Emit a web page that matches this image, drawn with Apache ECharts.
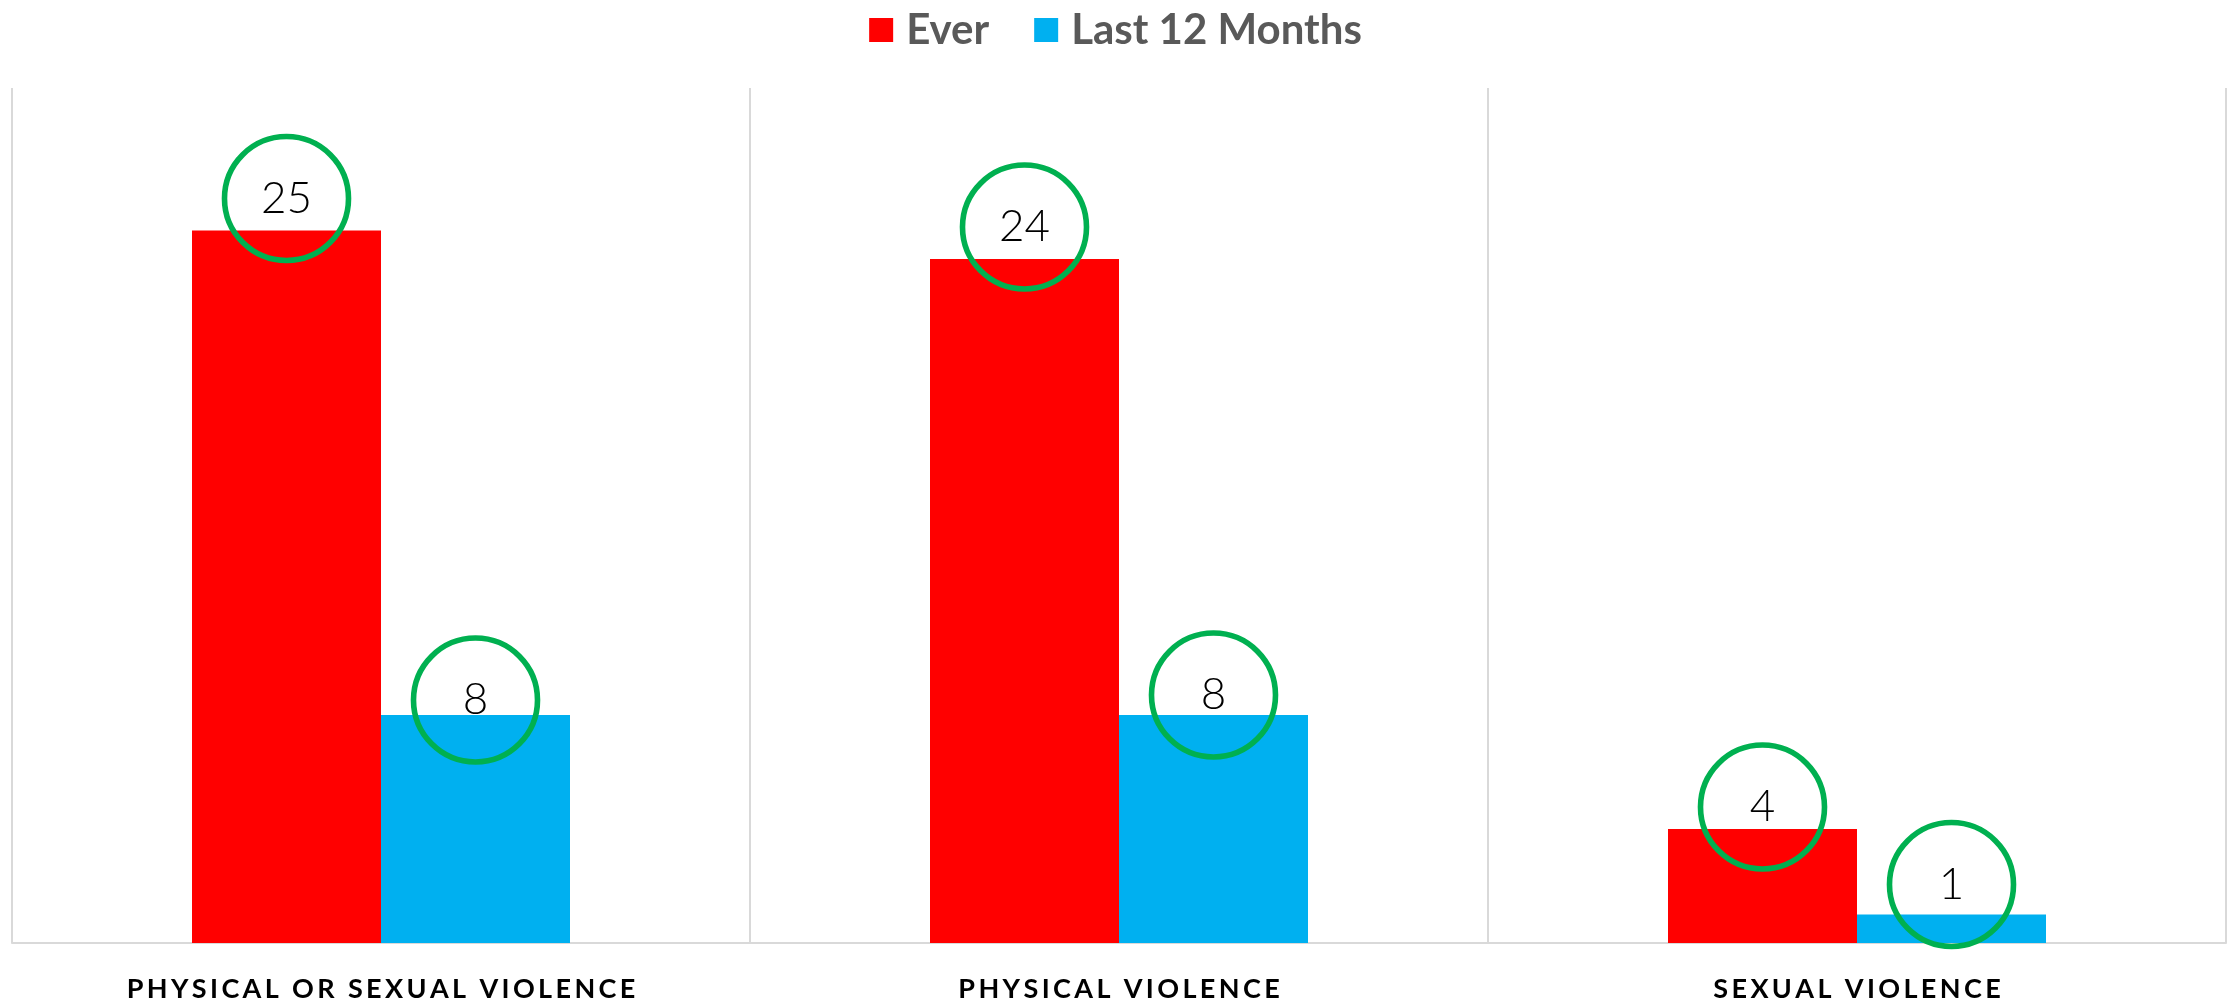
<!DOCTYPE html>
<html>
<head>
<meta charset="utf-8">
<title>Violence chart</title>
<script src="https://cdn.jsdelivr.net/npm/echarts@6/dist/echarts.min.js"></script>
<style>
  html, body { margin: 0; padding: 0; background: #fff; }
  #chart { width: 2231px; height: 1007px; }
</style>
</head>
<body>
<div id="chart"></div>
<script>
// chart values
var categories = ["PHYSICAL OR SEXUAL VIOLENCE", "PHYSICAL VIOLENCE", "SEXUAL VIOLENCE"];
var everValues = [25, 24, 4];
var last12Values = [8, 8, 1];
var seriesNames = ["Ever", "Last 12 Months"];

// how far each circle centre sits above its bar top (px)
var everLift = [32, 32, 22];
var last12Lift = [15, 20, 30];

var CIRCLE = 124;

// spread letters out a bit, the original uses wide tracking
function spaced(s) {
  return s.split("").join("\u2009");
}

function circleData(values, lifts) {
  return values.map(function (v, i) {
    return {
      value: v,
      label: { offset: [0, -lifts[i]] }
    };
  });
}

var labelStyle = {
  show: true,
  position: "top",
  distance: 0,
  formatter: "{c}",
  color: "#000",
  fontFamily: "Lato",
  fontWeight: 300,
  fontSize: 44,
  width: CIRCLE,
  height: CIRCLE,
  lineHeight: CIRCLE,
  align: "center",
  verticalAlign: "middle",
  borderColor: "#00B050",
  borderWidth: 2.8,
  borderRadius: CIRCLE / 2 + 2,
  backgroundColor: "transparent"
};

var chart = echarts.init(document.getElementById("chart"));
var option = {
  animation: false,
  backgroundColor: "#fff",
  legend: {
    top: 4,
    left: "center",
    icon: "rect",
    itemWidth: 24,
    itemHeight: 24,
    itemGap: 45,
    textStyle: {
      color: "#595959",
      fontFamily: "Lato",
      fontWeight: "bold",
      fontSize: 42,
      padding: [0, 0, 0, 8]
    },
    data: seriesNames
  },
  grid: { left: 12, right: 5, top: 88, bottom: 64, containLabel: false },
  xAxis: {
    type: "category",
    data: categories,
    axisLine: { lineStyle: { color: "#d9d9d9", width: 2 } },
    axisTick: { show: false },
    splitLine: { show: true, lineStyle: { color: "#d9d9d9", width: 2 } },
    axisLabel: {
      margin: 33,
      color: "#000",
      fontFamily: "Lato",
      fontWeight: "bold",
      fontSize: 27,
      formatter: spaced
    }
  },
  yAxis: {
    type: "value",
    min: 0,
    max: 30,
    show: false,
    splitLine: { show: false }
  },
  series: [
    {
      name: seriesNames[0],
      type: "bar",
      barWidth: 189,
      barGap: "0%",
      itemStyle: { color: "#FF0000" },
      label: labelStyle,
      data: circleData(everValues, everLift)
    },
    {
      name: seriesNames[1],
      type: "bar",
      barWidth: 189,
      barGap: "0%",
      itemStyle: { color: "#00B0F0" },
      label: labelStyle,
      data: circleData(last12Values, last12Lift)
    }
  ]
};
chart.setOption(option);
</script>
</body>
</html>
